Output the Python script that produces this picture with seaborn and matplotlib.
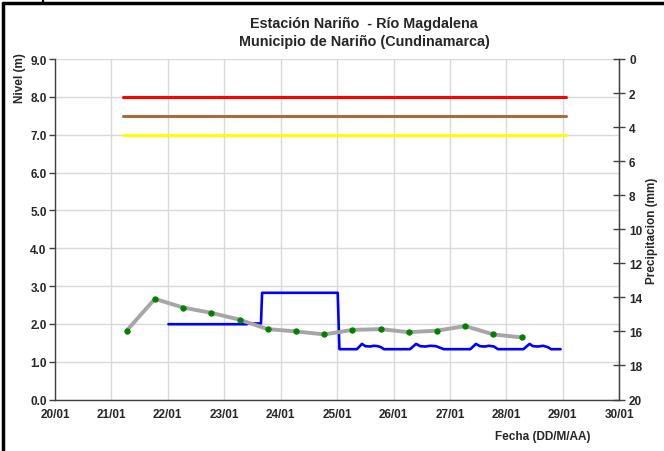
import matplotlib
matplotlib.use("Agg")
import matplotlib.pyplot as plt
import seaborn as sns
import pandas as pd
import numpy as np
from matplotlib.lines import Line2D

# ---- data ----
x_tick_labels = ["20/01", "21/01", "22/01", "23/01", "24/01", "25/01",
                 "26/01", "27/01", "28/01", "29/01", "30/01"]

# gray series (manual readings), day of January
obs_day = [21.27, 21.77, 22.27, 22.77, 23.27, 23.77, 24.27, 24.77,
           25.27, 25.77, 26.27, 26.77, 27.27, 27.77, 28.27]
obs_level = [1.82, 2.66, 2.43, 2.29, 2.11, 1.86, 1.80, 1.72,
             1.84, 1.86, 1.78, 1.82, 1.94, 1.72, 1.64]

# blue series (automatic sensor)
auto_day = [22.01, 23.40, 23.42, 23.65, 23.67, 25.01, 25.04,
            25.35, 25.44, 25.50, 25.58, 25.65, 25.72, 25.78, 25.83,
            26.29, 26.40, 26.47, 26.56, 26.65, 26.75, 26.82, 26.89,
            27.36, 27.46, 27.53, 27.62, 27.69, 27.78, 27.85,
            28.30, 28.41, 28.47, 28.56, 28.65, 28.74, 28.79, 28.96]
auto_level = [1.99, 1.99, 2.01, 2.01, 2.82, 2.82, 1.33,
              1.33, 1.47, 1.41, 1.40, 1.42, 1.41, 1.38, 1.33,
              1.33, 1.47, 1.41, 1.40, 1.42, 1.41, 1.37, 1.33,
              1.33, 1.47, 1.41, 1.40, 1.42, 1.40, 1.33,
              1.33, 1.47, 1.41, 1.40, 1.42, 1.38, 1.33, 1.33]

# alert thresholds
thr_levels = [8.0, 7.5, 7.0]
thr_colors = ["#FF0000", "#A0703C", "#FFFF00"]
thr_start, thr_end = 21.2, 29.05

# ---- plot ----
sns.set_style("white")
plt.rcParams['font.family'] = ['Liberation Sans', 'DejaVu Sans']

W, H = 664, 452
fig = plt.figure(figsize=(W/100, H/100), dpi=100)
ax = fig.add_axes([55/W, (H-400.5)/H, (619.3-55)/W, (400.5-60)/H])

for lvl, c in zip(thr_levels, thr_colors):
    df_t = pd.DataFrame({"d": [thr_start, thr_end], "v": [lvl, lvl]})
    sns.lineplot(data=df_t, x="d", y="v", color=c, lw=2.2, ax=ax)

df_a = pd.DataFrame({"d": auto_day, "v": auto_level})
sns.lineplot(data=df_a, x="d", y="v", color="#0000FF", lw=1.9, ax=ax,
             sort=False, estimator=None)

df_o = pd.DataFrame({"d": obs_day, "v": obs_level})
sns.lineplot(data=df_o, x="d", y="v", color="#A6A6A6", lw=2.8, ax=ax,
             marker="o", markersize=3.8, markerfacecolor="#008000",
             markeredgecolor="#008000", estimator=None, zorder=4)

ax.set_xlim(20, 30)
ax.set_ylim(0, 9)
ax.set_xticks(np.arange(20, 31))
ax.set_xticklabels(x_tick_labels, fontsize=8.5, fontweight="bold")
ax.set_yticks(np.arange(0, 10))
ax.set_yticklabels([f"{v:.1f}" for v in range(10)], fontsize=8.5, fontweight="bold")
ax.grid(True, color="#D9D9D9", lw=1)
ax.set_axisbelow(True)
ax.set_xlabel("")
ax.set_ylabel("")
ax.spines["top"].set_visible(False)
for s in ["left", "bottom", "right"]:
    ax.spines[s].set_color("#404040")
    ax.spines[s].set_linewidth(1)
ax.tick_params(axis="both", direction="out", length=4, width=1, color="#404040", pad=2)

ax2 = ax.twinx()
ax2.set_ylim(20, 0)
ax2.set_yticks(np.arange(0, 21, 2))
ax2.set_yticklabels([str(v) for v in range(0, 21, 2)], fontsize=8.5, fontweight="bold")
ax2.tick_params(axis="y", direction="inout", length=8, width=1, color="#404040", pad=3)
for s in ["top", "left", "bottom"]:
    ax2.spines[s].set_visible(False)
ax2.spines["right"].set_color("#404040")

fig.text(364/W, 1 - 24/H, "Estación Nariño  - Río Magdalena", ha="center", va="center",
         fontsize=10.4, fontweight="bold")
fig.text(364/W, 1 - 42/H, "Municipio de Nariño (Cundinamarca)", ha="center", va="center",
         fontsize=10.4, fontweight="bold")
fig.text(20/W, 1 - 78/H, "Nivel (m)", rotation=90, ha="center", va="center",
         fontsize=8.5, fontweight="bold")
fig.text(652/W, 1 - 231/H, "Precipitacion (mm)", rotation=90, ha="center", va="center",
         fontsize=8.5, fontweight="bold")
fig.text(543/W, 1 - 437/H, "Fecha (DD/M/AA)", ha="center", va="center",
         fontsize=8.5, fontweight="bold")

# outer frame (left and top)
fig.add_artist(Line2D([2.5/W, 2.5/W], [0, 1 - 3.5/H], transform=fig.transFigure, color="black", lw=2.5))
fig.add_artist(Line2D([2.5/W, 1], [1 - 3.5/H, 1 - 3.5/H], transform=fig.transFigure, color="black", lw=2.5))
fig.add_artist(Line2D([43/W, 43/W], [1 - 3.5/H, 1], transform=fig.transFigure, color="black", lw=1.5))

fig.savefig("out.png", dpi=100)
